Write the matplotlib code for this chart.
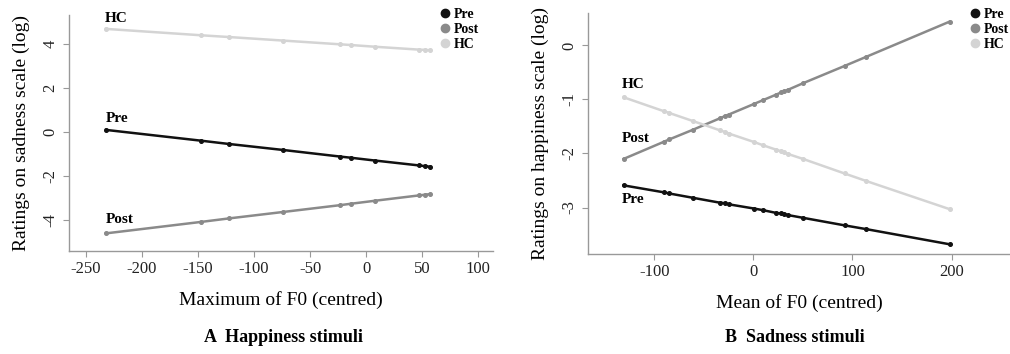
import matplotlib
matplotlib.use("Agg")
import matplotlib.pyplot as plt
from matplotlib.lines import Line2D

plt.rcParams["font.family"] = ["Liberation Serif", "DejaVu Serif"]

GROUPS = ["Pre", "Post", "HC"]
COLORS = {"Pre": "#111111", "Post": "#8a8a8a", "HC": "#d4d4d4"}

# panel A: happiness stimuli
a_x = [-232, -147, -122, -74, -23, -14, 8, 47, 52, 57]
a_pre = [0.09, -0.40, -0.55, -0.82, -1.12, -1.17, -1.30, -1.52, -1.55, -1.58]
a_post = [-4.60, -4.08, -3.92, -3.63, -3.32, -3.26, -3.12, -2.88, -2.85, -2.82]
a_hc = [4.67, 4.38, 4.30, 4.14, 3.97, 3.94, 3.86, 3.73, 3.72, 3.70]
a_xticks = [-250, -200, -150, -100, -50, 0, 50, 100]
a_yticks = [-4, -2, 0, 2, 4]

# panel B: sadness stimuli
b_x = [-131, -90, -85, -61, -34, -29, -25, 1, 10, 23, 28, 31, 35, 50, 92, 114, 198]
b_pre = [-2.59, -2.72, -2.74, -2.82, -2.91, -2.92, -2.94, -3.02, -3.05, -3.10,
         -3.11, -3.12, -3.14, -3.19, -3.33, -3.40, -3.68]
b_post = [-2.10, -1.78, -1.74, -1.56, -1.35, -1.31, -1.28, -1.08, -1.01, -0.91,
          -0.87, -0.85, -0.82, -0.70, -0.38, -0.21, 0.44]
b_hc = [-0.96, -1.22, -1.25, -1.40, -1.57, -1.60, -1.63, -1.79, -1.85, -1.93,
        -1.96, -1.98, -2.01, -2.10, -2.37, -2.51, -3.03]
b_xticks = [-100, 0, 100, 200]
b_yticks = [-3, -2, -1, 0]

W, H = 1010, 354
fig = plt.figure(figsize=(W / 100, H / 100), dpi=100)


def fr(x0, y0, x1, y1):
    # pixel box -> figure fraction
    return [x0 / W, 1 - y1 / H, (x1 - x0) / W, (y1 - y0) / H]


def panel(ax, xs, series, xlim, ylim, xticks, yticks, xlabel, ylabel, tags):
    for g, ys in zip(GROUPS, series):
        ax.plot(xs, ys, "-", color=COLORS[g], lw=1.8, marker="o", ms=2.6,
                zorder=3 if g == "Pre" else 2)
    for g, (tx, ty) in tags.items():
        ax.text(tx, ty, g, fontsize=11, fontweight="bold", ha="left", va="bottom")
    ax.set_xlim(*xlim)
    ax.set_ylim(*ylim)
    ax.set_xticks(xticks)
    ax.set_xticklabels([str(t) for t in xticks])
    ax.set_yticks(yticks)
    ax.set_yticklabels([str(t) for t in yticks], rotation=90, va="center")
    ax.set_xlabel(xlabel, fontsize=14, labelpad=10)
    ax.set_ylabel(ylabel, fontsize=14, labelpad=9)
    for s in ["top", "right"]:
        ax.spines[s].set_visible(False)
    for s in ["left", "bottom"]:
        ax.spines[s].set_color("#999999")
        ax.spines[s].set_linewidth(1.0)
    ax.tick_params(colors="#999999", labelcolor="#222222", labelsize=12, length=4)


axA = fig.add_axes(fr(69, 15, 493, 251))
panel(axA, a_x, [a_pre, a_post, a_hc], (-265, 113), (-5.4, 5.3), a_xticks, a_yticks,
      "Maximum of F0 (centred)", "Ratings on sadness scale (log)",
      {"HC": (-233, 4.85), "Pre": (-232, 0.3), "Post": (-232, -4.25)})

axB = fig.add_axes(fr(588, 13, 1010, 254))
panel(axB, b_x, [b_pre, b_post, b_hc], (-167, 259), (-3.86, 0.6), b_xticks, b_yticks,
      "Mean of F0 (centred)", "Ratings on happiness scale (log)",
      {"HC": (-133, -0.85), "Post": (-133, -1.85), "Pre": (-133, -2.98)})

handles = [Line2D([], [], ls="none", marker="o", ms=6, color=COLORS[g], label=g) for g in GROUPS]
for x0 in (432, 962):
    fig.legend(handles=handles, loc="upper left", bbox_to_anchor=(x0 / W, 1 - 2 / H),
               frameon=False, handletextpad=0.2, handlelength=1.0, labelspacing=0.15,
               borderaxespad=0, prop={"weight": "bold", "size": 10})

fig.text(283 / W, 1 - 337 / H, "A  Happiness stimuli", ha="center", va="center",
         fontsize=13, fontweight="bold")
fig.text(795 / W, 1 - 337 / H, "B  Sadness stimuli", ha="center", va="center",
         fontsize=13, fontweight="bold")

fig.savefig("out.png", dpi=100)
